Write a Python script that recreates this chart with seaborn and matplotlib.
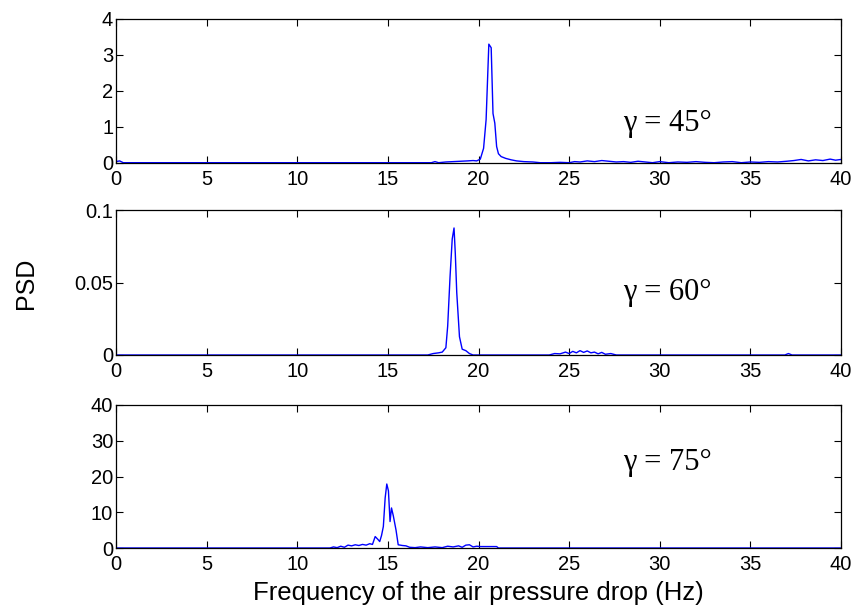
import matplotlib
matplotlib.use("Agg")
import matplotlib.pyplot as plt
import seaborn as sns
import pandas as pd

# ---- data ----
f45 = [0.0, 0.2, 0.4, 17.4, 17.6, 17.8, 18.2, 18.6, 19.0, 19.4, 19.7, 19.9, 20.1,
       20.28, 20.42, 20.57, 20.7, 20.8, 20.9, 21.0, 21.1, 21.25, 21.5, 21.8, 22.1,
       22.5, 23.0, 23.4, 24.0, 24.5, 25.0, 25.3, 25.6, 26.0, 26.4, 26.8, 27.2, 27.6,
       28.0, 28.4, 28.8, 29.2, 29.6, 30.0, 30.5, 31.0, 31.5, 32.0, 32.5, 33.0, 33.5,
       34.0, 34.5, 35.0, 35.5, 36.0, 36.5, 37.0, 37.4, 37.8, 38.2, 38.6, 39.0, 39.4,
       39.7, 40.0]
p45 = [0.03, 0.05, 0.0, 0.0, 0.03, 0.0, 0.02, 0.03, 0.04, 0.05, 0.06, 0.05, 0.1,
       0.4, 1.2, 3.3, 3.2, 1.37, 1.1, 0.45, 0.25, 0.17, 0.12, 0.08, 0.05,
       0.03, 0.02, 0.0, 0.0, 0.01, 0.0, 0.03, 0.02, 0.05, 0.03, 0.06, 0.04, 0.02,
       0.03, 0.01, 0.04, 0.02, 0.0, 0.03, 0.0, 0.02, 0.01, 0.03, 0.01, 0.0, 0.02,
       0.03, 0.0, 0.02, 0.01, 0.03, 0.02, 0.04, 0.06, 0.09, 0.05, 0.08, 0.06, 0.1,
       0.07, 0.09]

f60 = [0.0, 17.2, 17.5, 17.8, 18.0, 18.2, 18.3, 18.43, 18.55, 18.65, 18.72, 18.8,
       18.95, 19.1, 19.3, 19.5, 19.7, 23.9, 24.2, 24.5, 24.8, 25.0, 25.2, 25.4, 25.6,
       25.8, 26.0, 26.2, 26.4, 26.6, 26.8, 27.0, 27.3, 27.6, 36.9, 37.1, 37.3, 40.0]
p60 = [0.0, 0.0, 0.001, 0.0015, 0.002, 0.005, 0.02, 0.054, 0.08, 0.0876, 0.07, 0.043,
       0.0126, 0.004, 0.003, 0.001, 0.0, 0.0, 0.001, 0.0008, 0.002, 0.001, 0.0025,
       0.0015, 0.003, 0.0018, 0.0028, 0.0015, 0.002, 0.0008, 0.0018, 0.0005, 0.001,
       0.0, 0.0, 0.001, 0.0, 0.0]

f75 = [0.0, 11.8, 12.0, 12.2, 12.4, 12.6, 12.8, 13.0, 13.2, 13.4, 13.6, 13.8, 14.0,
       14.15, 14.3, 14.45, 14.55, 14.65, 14.75, 14.85, 14.94, 15.03, 15.12, 15.2,
       15.3, 15.45, 15.57, 15.8, 16.0, 16.2, 16.5, 16.8, 17.2, 17.6, 18.0, 18.3,
       18.6, 18.9, 19.1, 19.3, 19.5, 19.7, 19.9, 20.1, 20.5, 21.0, 21.1, 40.0]
p75 = [0.0, 0.0, 0.3, 0.1, 0.5, 0.2, 0.8, 0.6, 0.9, 0.7, 1.0, 0.8, 1.2,
       1.0, 3.2, 2.4, 1.8, 3.5, 6.0, 14.0, 17.9, 16.0, 7.4, 11.2,
       9.0, 5.0, 0.9, 0.7, 0.6, 0.2, 0.1, 0.3, 0.1, 0.3, 0.1, 0.5,
       0.3, 0.6, 0.2, 0.8, 0.9, 0.3, 0.5, 0.4, 0.4, 0.4, 0.0, 0.0]

x_ticks = [0, 5, 10, 15, 20, 25, 30, 35, 40]
y_ticks45 = [0, 1, 2, 3, 4]
y_ticks60 = [0, 0.05, 0.1]
y_tick_labels60 = ["0", "0.05", "0.1"]
y_ticks75 = [0, 10, 20, 30, 40]
labels = ["\u03b3 = 45\u00b0", "\u03b3 = 60\u00b0", "\u03b3 = 75\u00b0"]
label_y = [1.1, 0.043, 23.8]
x_label = "Frequency of the air pressure drop (Hz)"
y_label = "PSD"

sns.set_style("ticks")
plt.rcParams["font.family"] = ["Liberation Sans", "DejaVu Sans"]
plt.rcParams["axes.edgecolor"] = "black"
plt.rcParams["axes.linewidth"] = 0.9
plt.rcParams["text.color"] = "black"
plt.rcParams["xtick.color"] = "black"
plt.rcParams["ytick.color"] = "black"
plt.rcParams["xtick.labelcolor"] = "black"
plt.rcParams["ytick.labelcolor"] = "black"

fig = plt.figure(figsize=(8.55, 6.07), dpi=100)
L, W = 116 / 855, 725 / 855
positions = [
    (L, 1 - 162.7 / 607, W, 143.7 / 607),
    (L, 1 - 355 / 607, W, 145 / 607),
    (L, 1 - 548 / 607, W, 143 / 607),
]
series = [(f45, p45, y_ticks45, None, 4), (f60, p60, y_ticks60, y_tick_labels60, 0.1),
          (f75, p75, y_ticks75, None, 40)]

axes = []
for i, (pos, (f, p, yt, ytl, ymax)) in enumerate(zip(positions, series)):
    ax = fig.add_axes(pos)
    df = pd.DataFrame({"f": f, "psd": p})
    sns.lineplot(data=df, x="f", y="psd", ax=ax, color="#0000ff", linewidth=1.0,
                 estimator=None, sort=False)
    ax.set_xlim(0, 40)
    ax.set_ylim(0, ymax)
    ax.set_xticks(x_ticks)
    ax.set_xticklabels([str(t) for t in x_ticks])
    ax.set_yticks(yt)
    if ytl is not None:
        ax.set_yticklabels(ytl)
    else:
        ax.set_yticklabels([str(t) for t in yt])
    ax.tick_params(direction="in", top=True, right=True, length=5, width=0.8,
                   labelsize=14.5, colors="black", labelcolor="black")
    ax.tick_params(axis="x", pad=5)
    ax.tick_params(axis="y", pad=2)
    ax.set_xlabel("")
    ax.set_ylabel("")
    ax.text(28.0, label_y[i], labels[i], family=["Liberation Serif", "DejaVu Serif"],
            fontsize=22, va="center", ha="left", color="black")
    for s in ax.spines.values():
        s.set_visible(True)
    axes.append(ax)

fig.text(478 / 855, 1 - 593 / 607, x_label, ha="center", va="center", fontsize=18.5,
         color="black")
fig.text(26 / 855, 1 - 283 / 607, y_label, ha="center", va="center", fontsize=18,
         rotation=90, color="black")

fig.savefig("out.png", dpi=100)
